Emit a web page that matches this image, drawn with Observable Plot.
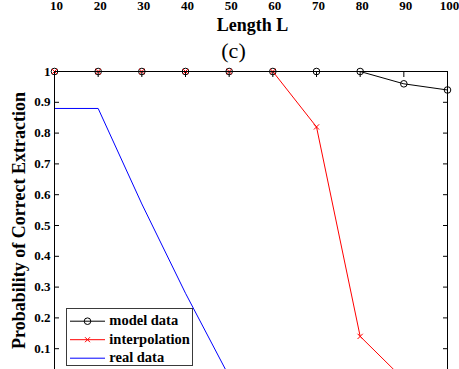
<!DOCTYPE html>
<html>
<head>
<meta charset="utf-8">
<script src="https://cdn.jsdelivr.net/npm/d3@7"></script>
<script src="https://cdn.jsdelivr.net/npm/@observablehq/plot@0.6"></script>
<style>
  html, body { margin: 0; padding: 0; background: #fff; overflow: hidden; }
  #wrap { position: relative; width: 459px; height: 369px; overflow: hidden; }
  #wrap svg { display: block; }
  #legend { position: absolute; left: 66px; top: 308px; }
</style>
</head>
<body>
<div id="wrap"></div>
<script>
// Sequence length L on the x axis
const lengths = [10, 20, 30, 40, 50, 60, 70, 80, 90, 100];

// Probability of correct extraction for each method
const modelData     = [1, 1, 1, 1, 1, 1, 1, 1, 0.96, 0.94];
const interpolation = [1, 1, 1, 1, 1, 1, 0.82, 0.14, 0, 0];
const realData      = [0.88, 0.88, 0.57, 0.28, 0.01, 0, 0, 0, 0, 0];

// Tick values
const xTicks = [10, 20, 30, 40, 50, 60, 70, 80, 90, 100];
const yTicks = [0.1, 0.2, 0.3, 0.4, 0.5, 0.6, 0.7, 0.8, 0.9, 1];

// Text
const panelTitle = "(c)";
const xLabel = "Length L";
const yLabel = "Probability of Correct Extraction";
const seriesNames = ["model data", "interpolation", "real data"];

const rows = lengths.map((L, i) => ({
  L,
  model: modelData[i],
  interp: interpolation[i],
  real: realData[i]
}));

const fmt = d => String(+d.toFixed(1));
const font = "'Liberation Serif', 'Times New Roman', serif";

const chart = Plot.plot({
  width: 459,
  height: 409,
  marginTop: 71,
  marginLeft: 54,
  marginRight: 12,
  marginBottom: 30,
  style: { fontFamily: font, background: "white", color: "black" },
  x: { domain: [10, 100] },
  y: { domain: [0, 1] },
  marks: [
    // x tick labels and axis title of the panel above
    Plot.text(xTicks, {
      x: d => d, text: d => String(d), frameAnchor: "top",
      dx: 2, dy: -62, lineAnchor: "bottom",
      fontSize: 13, fontWeight: "bold"
    }),
    Plot.text([xLabel], {
      frameAnchor: "top", dx: 1.5, dy: -41, lineAnchor: "bottom",
      fontSize: 18, fontWeight: "bold"
    }),
    // panel title
    Plot.text([panelTitle], {
      frameAnchor: "top", dx: -17.5, dy: -14, lineAnchor: "bottom",
      fontSize: 22
    }),
    // y axis title
    Plot.text([yLabel], {
      frameAnchor: "left", rotate: -90, textAnchor: "middle",
      dx: -30, dy: -5, lineAnchor: "bottom",
      fontSize: 18, fontWeight: "bold"
    }),

    // data series
    Plot.line(rows, { x: "L", y: "model", stroke: "black", strokeWidth: 1 }),
    Plot.dot(rows, { x: "L", y: "model", symbol: "circle", r: 3.3, stroke: "black", fill: "none", strokeWidth: 1 }),
    Plot.line(rows, { x: "L", y: "interp", stroke: "#ff0000", strokeWidth: 1 }),
    Plot.dot(rows, { x: "L", y: "interp", symbol: "times", r: 2.5, stroke: "#ff0000", strokeWidth: 1 }),
    Plot.line(rows, { x: "L", y: "real", stroke: "#0000ff", strokeWidth: 1 }),

    // box and inward ticks
    Plot.frame({ stroke: "black", strokeWidth: 1 }),
    Plot.axisY({
      ticks: yTicks, anchor: "left", tickSize: -5, tickPadding: 9,
      tickFormat: fmt, fontSize: 13, fontWeight: "bold", label: null
    }),
    Plot.axisY({ ticks: yTicks, anchor: "right", tickSize: -5, tickFormat: () => "", label: null }),
    Plot.axisX({ ticks: xTicks, anchor: "top", tickSize: -5, tickFormat: () => "", label: null })
  ]
});

const wrap = document.getElementById("wrap");
wrap.appendChild(chart);

// Legend box
const legendW = 127, legendH = 58;
const legend = d3.select(wrap).append("svg")
  .attr("id", "legend")
  .attr("width", legendW)
  .attr("height", legendH);

legend.append("rect")
  .attr("x", 0.5).attr("y", 0.5)
  .attr("width", legendW - 1).attr("height", legendH - 1)
  .attr("fill", "white").attr("stroke", "#3a3a3a");

const legendColors = ["black", "#ff0000", "#0000ff"];
const legendSymbols = ["circle", "times", null];

seriesNames.forEach((name, i) => {
  const cy = 12.7 + i * 18.5;
  const g = legend.append("g").attr("transform", `translate(0,${cy})`);
  g.append("line")
    .attr("x1", 4).attr("x2", 39).attr("y1", 0.5).attr("y2", 0.5)
    .attr("stroke", legendColors[i]).attr("stroke-width", 1);
  if (legendSymbols[i] === "circle") {
    g.append("circle").attr("cx", 21.5).attr("cy", 0.5).attr("r", 3.3)
      .attr("fill", "none").attr("stroke", legendColors[i]);
  } else if (legendSymbols[i] === "times") {
    g.append("path").attr("d", "M19,-2L24,3M19,3L24,-2")
      .attr("fill", "none").attr("stroke", legendColors[i]);
  }
  g.append("text")
    .attr("x", 43.3).attr("y", 0)
    .attr("dy", "0.32em")
    .attr("font-family", font)
    .attr("font-size", 14.5)
    .attr("font-weight", "bold")
    .attr("fill", "black")
    .text(name);
});
</script>
</body>
</html>
